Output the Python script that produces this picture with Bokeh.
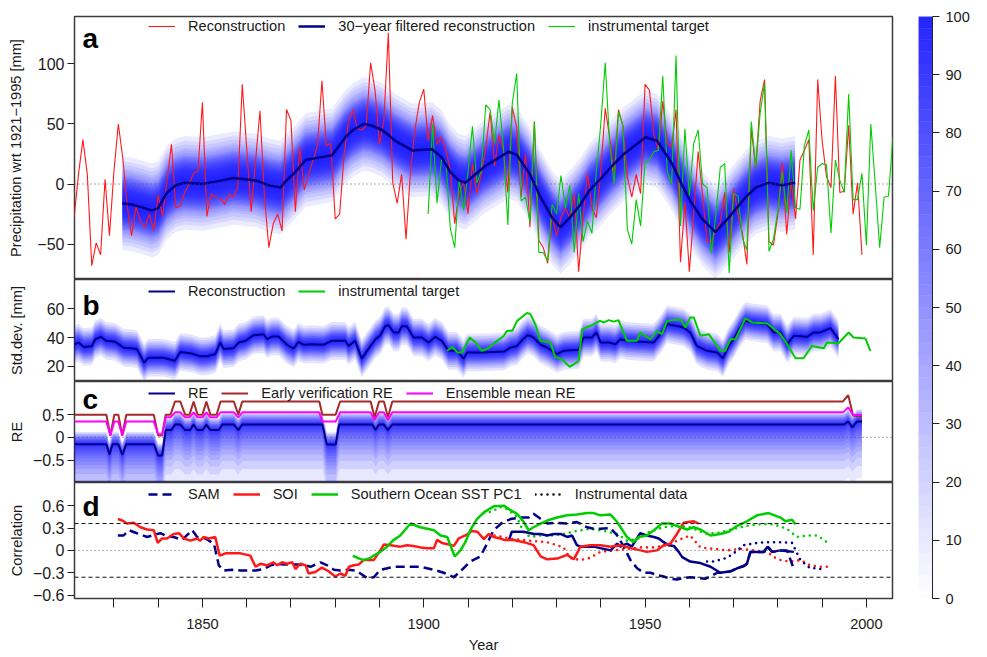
import math
import numpy as np
from bokeh.plotting import figure
from bokeh.layouts import row, column
from bokeh.models import Range1d, FixedTicker, Span, Label, Legend, LegendItem
from bokeh.embed import file_html
from bokeh.resources import INLINE

FONT = "Liberation Sans"

# ---------------- data ----------------
recon_years = list(range(1821, 2000))
recon_vals = [
    -28, 8, 37, 8, -68, -49, -59, 4, -43, 10,
    50, 22, -18, -43, -19, -31, -36, -25, -39, -9,
    -27, 3, 33, -20, -18, -7, 0, 9, 11, 68,
    -27, -8, -11, -12, -17, -9, -11, -2, 83, 30,
    -23, 19, 61, -10, -53, -33, -25, -39, 62, 53,
    -23, 31, -5, 8, 20, 32, 86, 32, 34, -29,
    -25, 24, 52, 62, 46, 45, 48, 101, 78, 33,
    53, 126, 1, -16, 8, -46, 10, 45, 68, 79,
    36, 57, 33, 39, 28, 12, -33, -8, 2, -25,
    17, -8, 8, 30, 60, 15, 41, 28, -7, 64,
    47, -11, 25, -36, 52, -47, -53, -66, -25, -43,
    -28, -20, -28, -8, -73, -28, 9, -20, -28, 11,
    63, 39, 8, 62, 48, 6, -11, 8, -8, 83,
    78, 41, 28, 69, 34, 31, 62, -65, -15, -73,
    -25, 27, -10, -48, -48, -38, -32, -7, -57, -4,
    -25, -41, -67, 46, 13, 69, 87, -48, -51, -25,
    18, -42, 3, -29, 20, 28, 37, -59, 87, 36,
    6, -3, 90, -7, -6, 49, -25, 1, -59]

instr_years = list(range(1901, 2007))
instr_vals = [
    -25, 50, -16, 20, 19, -37, -53, 4, -22, 10,
    48, 1, 11, 66, 62, 34, 70, 31, -34, 67,
    92, -14, -11, -32, 52, -57, -57, -64, -17, -25,
    7, -20, -1, -57, -8, -48, -31, -41, 11, 50,
    101, 34, 0, 60, 49, -38, -50, -13, -35, 18,
    20, 27, 28, 90, 11, 0, 107, -35, 46, -10,
    34, 45, 0, -3, -58, -25, 14, 17, -74, -8,
    -10, -45, -55, 52, 14, 59, 84, -56, -46, -22,
    10, -24, 28, -20, -21, 32, 45, -22, 14, 17,
    16, -41, 20, 3, -7, 75, -13, -13, 9, -51,
    50, 0, -53, -11, -10, 40]

filt_years = [1831.9, 1834, 1836, 1838.6, 1840, 1842, 1844, 1846, 1850, 1853, 1857, 1862,
              1865, 1867.6, 1869, 1871, 1873.3, 1876.3, 1879.3, 1882.3, 1884, 1886.4, 1888,
              1890.6, 1893.6, 1897.4, 1901.9, 1904.1, 1906, 1907.9, 1909.4, 1911, 1913.9,
              1917, 1919.2, 1921.1, 1924, 1926.4, 1929, 1930.9, 1933, 1935.4, 1937.5, 1939.9,
              1942.5, 1945.2, 1948, 1950.1, 1952.7, 1954.5, 1956.1, 1958, 1960.2, 1962.9,
              1965.9, 1968.9, 1972.7, 1975, 1977.9, 1980.9, 1983.9]
filt_vals = [-16, -17, -19, -22, -20, -7, -1, 1, 0, 2, 5, 3,
             -1, -3, 3, 10, 20, 22, 24, 39, 45, 50, 49,
             45, 36, 28, 29, 22, 10, 3, 1, 6, 15,
             22, 27, 24, 8, -11, -28, -36, -28, -17, -5, 4,
             15, 25, 33, 39, 36, 26, 17, 2, -14, -29,
             -40, -28, -11, -3, 1, -1, 1]

sd_years = [1821.1, 1822, 1823.2, 1825, 1825.8, 1827, 1828.3, 1830.3, 1832.2, 1834.4, 1835.2,
            1836.8, 1837.8, 1841.2, 1843.8, 1845, 1847.6, 1849.5, 1851, 1852.9, 1854, 1854.8,
            1857, 1858.2, 1859.7, 1861.6, 1863.8, 1864.6, 1865.7, 1867.2, 1869.1, 1870.6,
            1871.7, 1872.9, 1874.7, 1877.4, 1879.2, 1882.3, 1883, 1884.5, 1886, 1887.2, 1889.1,
            1890.2, 1891.3, 1892.1, 1893.2, 1894.3, 1895.1, 1896.2, 1897.7, 1899.6, 1901.1,
            1902.6, 1904.1, 1905.6, 1907.5, 1909, 1909.8, 1912.8, 1918.1, 1919.6, 1921.1,
            1922.2, 1923.5, 1924.8, 1926.4, 1927.9, 1929, 1930.1, 1931.6, 1935, 1936.1, 1938,
            1939, 1940, 1941.8, 1943.3, 1944.4, 1945.9, 1948.2, 1951.9, 1953.5, 1955, 1957.2,
            1958.7, 1960.2, 1961.7, 1964, 1966.3, 1967.6, 1968.9, 1970, 1971.5, 1972.7, 1974.5,
            1977.6, 1979, 1980.6, 1982.1, 1983.6, 1986.6, 1988.1, 1989.6, 1991.9, 1993.7]
sd_vals = [35.4, 36.5, 33.5, 34, 38.8, 40.5, 37.7, 37, 33, 32.4, 32,
           22.7, 26, 26, 24, 30, 29, 27, 27, 28.5, 36.5, 32,
           32.6, 36.5, 37.7, 41.6, 42.3, 38.8, 40.7, 40.7, 35, 32.4,
           37, 35, 35.4, 35, 37.7, 37.7, 34.2, 37.7, 25.4, 30.8, 38.8,
           41.6, 48, 48.5, 43.5, 43.5, 48, 47.6, 40, 40, 36.5,
           40.5, 37.7, 30.8, 30.8, 25.4, 29.6, 29.6, 30.3, 33, 34.2,
           38.2, 41.8, 40, 35, 33, 30.8, 28.5, 30.8, 31.5, 40, 40,
           43.5, 36.5, 36.5, 35.4, 38.8, 37.7, 37.2, 36.5, 42.3, 49.2, 48,
           46.9, 43.5, 34.2, 30.8, 29.6, 25.7, 34.2, 38.8, 46.9, 51.5, 50.4,
           49.2, 43.5, 43.5, 35.4, 41.2, 40.5, 43.5, 43.5, 46.5, 38.8]

sd_instr_years = [1905.3, 1906.4, 1907.7, 1908.6, 1910.4, 1911.6, 1913.1, 1914.6, 1916.1, 1917.6,
                  1918.1, 1918.8, 1920, 1921.1, 1923.3, 1924.1, 1925.2, 1926.4, 1928.6, 1929.7,
                  1931.2, 1933, 1935, 1935.8, 1937.7, 1939.8, 1940.7, 1941.8, 1942.9, 1944,
                  1945.9, 1948.2, 1948.9, 1951.2, 1952.7, 1953.8, 1955, 1958, 1959.1, 1960.2,
                  1961, 1962.5, 1964.4, 1967, 1968.1, 1969.3, 1970.4, 1972.7, 1974.2, 1977.6,
                  1980.6, 1982.1, 1984, 1985.8, 1987.7, 1990.4, 1991.1, 1993.7, 1996, 1997.1,
                  1999.8, 2000.9]
sd_instr_vals = [30.8, 33.5, 29.6, 29.6, 40, 37, 30.8, 32.6, 36.5, 40,
                 41.2, 44.6, 44.6, 51.5, 56.9, 56.2, 49.2, 37.7, 36.5, 26.6,
                 25, 19.7, 23.8, 45.8, 48.1, 51.5, 50.4, 52, 51, 52,
                 37.7, 37.7, 43.5, 38.8, 44.6, 42.3, 51.5, 52.7, 46.9, 53.9,
                 53.9, 41.2, 42.3, 30.8, 30.8, 38.8, 38.8, 53.2, 50.4, 49.7,
                 42.3, 35.4, 25.7, 25.7, 34.2, 32.6, 36.5, 36, 43.5, 40,
                 39.3, 30.8]

re_years = [1821.1, 1828.3, 1829.0, 1829.7, 1831.0, 1831.9, 1832.8, 1839, 1840, 1840.9, 1841.7,
            1843, 1843.8, 1845, 1846.1, 1847.2, 1848, 1848.8, 1850, 1850.9, 1851.8, 1853.7,
            1854.5, 1857.1, 1858.1, 1859, 1877.1, 1878.1, 1880.1, 1880.9, 1888.4, 1889.1,
            1889.9, 1891.0, 1891.9, 1892.9, 1994.9, 1995.9, 1996.8, 1997.9, 1999]
re_vals = [-0.15, -0.15, -0.38, -0.15, -0.15, -0.38, -0.15, -0.15, -0.4, -0.4, 0.16,
           0.16, 0.28, 0.28, 0.16, 0.16, 0.28, 0.16, 0.16, 0.28, 0.16, 0.16,
           0.28, 0.28, 0.16, 0.28, 0.28, -0.16, -0.16, 0.28, 0.28, 0.16,
           0.28, 0.28, 0.16, 0.28, 0.28, 0.35, 0.22, 0.35, 0.35]

ver_years = [1821.1, 1828.3, 1829.2, 1830.1, 1831.0, 1831.9, 1832.8, 1839, 1840, 1840.9, 1841.7,
             1842.8, 1843.8, 1845, 1846.1, 1847.1, 1848, 1848.9, 1850, 1850.9, 1851.8, 1853.2,
             1854.1, 1857.1, 1858.1, 1859, 1876.4, 1877.1, 1880.1, 1881.1, 1888, 1888.9,
             1889.9, 1891, 1891.9, 1892.9, 1994.7, 1995.9, 1997, 1999]
ver_re_vals = [0.5, 0.5, 0.04, 0.5, 0.5, 0.04, 0.5, 0.5, 0.04, 0.04, 0.5,
               0.5, 0.79, 0.79, 0.5, 0.5, 0.79, 0.5, 0.5, 0.79, 0.5, 0.5,
               0.79, 0.79, 0.5, 0.79, 0.79, 0.5, 0.5, 0.79, 0.79, 0.44,
               0.79, 0.79, 0.44, 0.79, 0.79, 0.93, 0.48, 0.46]
ens_re_vals = [0.35, 0.35, 0.04, 0.35, 0.35, 0.04, 0.35, 0.35, 0.07, 0.07, 0.44,
               0.44, 0.55, 0.55, 0.44, 0.44, 0.55, 0.44, 0.44, 0.55, 0.44, 0.44,
               0.55, 0.55, 0.44, 0.55, 0.55, 0.35, 0.35, 0.55, 0.55, 0.38,
               0.55, 0.55, 0.38, 0.55, 0.55, 0.66, 0.49, 0.49]

soi_years = [1830.9, 1831.9, 1833, 1834.5, 1836, 1837.5, 1839, 1839.9, 1840.9, 1842, 1843.5,
             1844.7, 1845.8, 1847.3, 1848.8, 1849.5, 1850.3, 1851.4, 1852.9, 1853.9, 1855.2,
             1857.1, 1858.6, 1860.8, 1862, 1863.1, 1864.6, 1866, 1866.9, 1868, 1869.1, 1870.3,
             1871, 1872.1, 1873.3, 1874, 1875.5, 1877, 1878.5, 1880, 1881.2, 1882.3, 1883.1,
             1884.2, 1885.3, 1886.4, 1888.7, 1890.2, 1891, 1892.5, 1894.7, 1896.2, 1897.7,
             1899.3, 1900.8, 1902.3, 1903, 1904.1, 1905.7, 1906.8, 1907.9, 1909.4, 1910.9,
             1912.1, 1913.6, 1914.7, 1915.8, 1917.3, 1918.1, 1920.3, 1922.6, 1924.8, 1926.4,
             1927.9, 1930.1, 1932.4, 1933.9, 1935.4, 1937.6, 1939.9, 1942.2, 1944.4, 1946.7,
             1949, 1950.4, 1952.7, 1954.2, 1955.7, 1957.2, 1958.7, 1961, 1962.1]
soi_vals = [0.42, 0.40, 0.36, 0.37, 0.31, 0.28, 0.27, 0.10, 0.16, 0.16, 0.22,
            0.23, 0.16, 0.13, 0.16, 0.13, 0.18, 0.16, 0.18, -0.07, -0.04,
            -0.04, -0.04, -0.07, -0.22, -0.18, -0.2, -0.16, -0.2, -0.16, -0.18, -0.16,
            -0.25, -0.18, -0.2, -0.31, -0.29, -0.23, -0.28, -0.35, -0.31, -0.34, -0.22,
            -0.2, -0.19, -0.13, -0.13, 0.0, 0.08, 0.07, 0.05, 0.07, 0.06,
            0.04, 0.03, 0.03, 0.14, 0.1, 0.08, 0.06, 0.16, 0.2, 0.26,
            0.25, 0.15, 0.22, 0.18, 0.16, 0.14, 0.14, 0.11, 0.07, -0.08,
            -0.12, -0.11, -0.06, -0.12, 0.05, 0.07, 0.07, 0.05, 0.07, 0.03,
            0.0, -0.02, 0.0, 0.07, 0.09, 0.22, 0.37, 0.39, 0.36]

sam_years = [1830.9, 1832.2, 1833.4, 1835.2, 1837.5, 1839.8, 1840.5, 1842, 1843.5, 1845.4,
             1847.7, 1848.8, 1850.7, 1852.6, 1853.7, 1854.8, 1856.7, 1858.6, 1860.1, 1862,
             1863.9, 1865.4, 1866.9, 1868.4, 1869.9, 1871.4, 1873.3, 1874.4, 1876.7, 1878.2,
             1879.7, 1881.2, 1883.1, 1884.6, 1885.7, 1887.2, 1888.7, 1890.2, 1893.2, 1896.2,
             1899.2, 1902.3, 1904.5, 1906.8, 1908.3, 1910.5, 1912.8, 1914.3, 1915.8, 1917.7,
             1919.6, 1921.8, 1923.7, 1924.8, 1926, 1927.9, 1930.1, 1932.4, 1934.6, 1936.9,
             1938.4, 1939.9, 1942.2, 1943.7, 1945.2, 1946.7, 1948.2, 1949.7, 1951.2, 1952.7,
             1954.2, 1955.7, 1957.2, 1958.7, 1960.2, 1961.7, 1963.6, 1964.8, 1966.3, 1967.8,
             1969.3, 1970.8, 1972.3, 1973, 1973.8, 1975.3, 1976.8, 1977.7, 1978.7, 1980.6,
             1982.1, 1983.6]
sam_vals = [0.2, 0.2, 0.27, 0.23, 0.18, 0.22, 0.23, 0.19, 0.18, 0.14,
            0.27, 0.18, 0.16, 0.09, -0.2, -0.27, -0.26, -0.27, -0.27, -0.27,
            -0.25, -0.2, -0.18, -0.19, -0.19, -0.19, -0.2, -0.22, -0.16, -0.2,
            -0.26, -0.27, -0.26, -0.27, -0.31, -0.37, -0.36, -0.26, -0.22, -0.22,
            -0.22, -0.26, -0.3, -0.36, -0.28, -0.15, -0.08, 0.09, 0.27, 0.37,
            0.42, 0.44, 0.44, 0.49, 0.44, 0.36, 0.37, 0.36, 0.38, 0.31,
            0.29, 0.29, 0.3, 0.2, 0.05, -0.13, -0.24, -0.3, -0.3, -0.33,
            -0.35, -0.38, -0.39, -0.37, -0.36, -0.37, -0.38, -0.35, -0.3, -0.3,
            -0.28, -0.24, -0.21, -0.18, -0.02, -0.02, -0.02, 0.05, -0.02, 0.0,
            0.0, -0.25]

sam2_years = [1919.2, 1919.9, 1922.6, 1924.9, 1926.4, 1927.9, 1929.4, 1930.9, 1932.4, 1933.5,
              1934.6, 1935.4, 1938.4, 1939.9, 1942.2, 1943.7, 1944.4, 1945.9, 1947, 1948.9,
              1950.4, 1952, 1953.1, 1954.2, 1955.3, 1956.5, 1957.6, 1958.4, 1960.2, 1962.5,
              1964.8, 1967, 1969.3, 1970.8, 1972.3, 1973, 1973.8, 1975.3, 1976.8, 1977.7,
              1978.7, 1980.6, 1983.6]
sam2_vals = [0.13, 0.25, 0.25, 0.22, 0.22, 0.2, 0.22, 0.22, 0.18, 0.2,
             0.07, 0.05, 0.05, 0.03, 0.0, 0.09, 0.05, 0.09, 0.05, 0.23,
             0.2, 0.18, 0.16, 0.11, 0.07, 0.06, -0.02, -0.09, -0.15, -0.17,
             -0.22, -0.3, -0.28, -0.24, -0.21, -0.18, -0.02, -0.02, -0.02, 0.05,
             -0.02, 0.0, -0.02]

sst_years = [1884, 1885, 1886.4, 1888, 1888.7, 1890.2, 1891.7, 1893.2, 1894.7, 1897, 1899.2,
             1902.3, 1903.8, 1905.3, 1907, 1908.3, 1909.4, 1910.5, 1912, 1913.6, 1915.8,
             1918.1, 1919.6, 1921.1, 1922.6, 1923.7, 1924.8, 1926.4, 1927.9, 1930.1, 1932.4,
             1934.6, 1936.9, 1938.4, 1939.9, 1942.2, 1943.7, 1945.9, 1947.4, 1948.6, 1950.4,
             1952, 1953.8, 1955.7, 1958, 1959.5, 1961, 1962.5, 1964.8, 1967, 1968.9, 1970.8,
             1973, 1975.3, 1977.9, 1980.6, 1981.7, 1983.2, 1984]
sst_vals = [-0.07, -0.1, -0.13, -0.1, -0.07, -0.02, 0.05, 0.14, 0.2, 0.36, 0.31,
            0.27, 0.2, 0.18, -0.08, 0.0, 0.11, 0.27, 0.42, 0.51, 0.59,
            0.6, 0.54, 0.49, 0.38, 0.27, 0.31, 0.36, 0.4, 0.44, 0.47,
            0.48, 0.5, 0.5, 0.47, 0.48, 0.38, 0.18, 0.11, 0.18, 0.2,
            0.27, 0.36, 0.36, 0.31, 0.28, 0.31, 0.28, 0.2, 0.22, 0.25, 0.33,
            0.39, 0.47, 0.5, 0.44, 0.39, 0.41, 0.35]

sst_obs_years = [1913.6, 1915.4, 1917.3, 1919, 1921, 1922.6, 1924.1, 1926.4, 1929, 1931.6,
                 1934.6, 1937.6, 1940.7, 1943.7, 1945.9, 1948.2, 1951, 1954.2, 1957.2, 1960,
                 1964, 1967, 1970, 1973, 1976, 1979, 1982, 1984.3, 1986.6, 1988.9, 1991.1]
sst_obs_vals = [0.5, 0.52, 0.58, 0.55, 0.45, 0.24, 0.18, 0.2, 0.2, 0.22,
                0.26, 0.29, 0.26, 0.22, 0.13, 0.15, 0.25, 0.31, 0.33, 0.31,
                0.22, 0.24, 0.29, 0.33, 0.35, 0.35, 0.29, 0.18, 0.2, 0.2, 0.11]
soi_obs_years = [1916, 1920.3, 1924, 1927.9, 1931.6, 1933, 1935.4, 1937.6, 1939.9, 1942.9,
                 1945.9, 1948.9, 1952, 1955, 1958, 1960.2, 1962.5, 1965.5, 1968.5, 1971.5,
                 1974.5, 1977.6, 1979.1, 1980.6, 1982.8, 1985.1, 1987.3, 1989.6, 1991.1]
soi_obs_vals = [0.2, 0.15, 0.13, 0.11, 0.04, -0.1, -0.13, -0.1, -0.02, 0.0,
                0.02, 0.04, 0.04, 0.07, 0.15, 0.2, 0.04, 0.02, 0.0, 0.02,
                0.0, -0.02, -0.09, -0.13, -0.15, -0.13, -0.2, -0.22, -0.22]
sam_obs_years = [1964, 1965.5, 1968.5, 1970, 1972.3, 1975.3, 1977.6, 1980.6, 1983.2, 1985.1,
                 1987.3, 1988.9, 1990.4]
sam_obs_vals = [-0.15, -0.15, -0.1, -0.04, 0.07, 0.1, 0.11, 0.11, 0.1, -0.13,
                -0.24, -0.24, -0.26]

sig_levels = [-0.36, 0.36]
prob_levels = list(range(0, 101, 2))

year_ticks = list(range(1830, 2001, 10))
year_labels = {y: (str(y) if y % 50 == 0 else "") for y in year_ticks}
a_ticks, a_labels = [-50, 0, 50, 100], ["\u221250", "0", "50", "100"]
b_ticks, b_labels = [20, 40, 60], ["20", "40", "60"]
c_ticks, c_labels = [-0.5, 0, 0.5], ["\u22120.5", "0", "0.5"]
d_ticks, d_labels = [-0.6, -0.3, 0, 0.3, 0.6], ["\u22120.6", "\u22120.3", "0", "0.3", "0.6"]
cb_ticks = list(range(0, 101, 10))

# ---------------- styling ----------------
RED = "#FF1A1A"
GREEN = "#00CD00"
NAVY = "#00008B"
BROWN = "#A52A2A"
MAGENTA = "#FF00FF"
SHADE = "#0000FF"
TXT = "#1a1a1a"
FRAME_W = 818
LEFT = 74
TOP = 16
BOTTOM = 57
YTICK_FS = "16px"
FS = "14.6px"

xr = Range1d(1821.1, 2005.9)


def make_panel(frame_h, yr, ticks, labels, title, title_standoff, top=0, bottom=0, xaxis=False):
    p = figure(frame_width=FRAME_W, frame_height=frame_h, x_range=xr, y_range=Range1d(*yr),
               output_backend="svg", toolbar_location=None,
               x_axis_location="below" if xaxis else None,
               min_border_left=LEFT, min_border_right=2, min_border_top=top,
               min_border_bottom=bottom)
    p.grid.visible = False
    p.outline_line_color = "#3c3c3c"
    p.outline_line_width = 1.5
    p.background_fill_color = "white"
    p.border_fill_color = "white"
    ax = p.yaxis[0]
    ax.ticker = FixedTicker(ticks=ticks)
    ax.major_label_overrides = dict(zip(ticks, labels))
    ax.axis_line_color = None
    ax.major_tick_out = 7
    ax.major_tick_in = 0
    ax.minor_tick_out = 0
    ax.minor_tick_in = 0
    ax.major_tick_line_color = "#222222"
    ax.major_label_text_font = FONT
    ax.major_label_text_font_size = YTICK_FS
    ax.major_label_text_color = TXT
    ax.major_label_standoff = 3
    ax.axis_label = title
    ax.axis_label_text_font = FONT
    ax.axis_label_text_font_size = FS
    ax.axis_label_text_font_style = "normal"
    ax.axis_label_text_color = TXT
    ax.axis_label_standoff = title_standoff
    return p


def add_letter(p, letter, frame_h, drop):
    p.add_layout(Label(x=8, y=frame_h - drop, x_units="screen", y_units="screen", text=letter,
                       text_font=FONT, text_font_size="28px", text_font_style="bold",
                       text_color="black", text_baseline="alphabetic"))


def add_legend(p, items, y):
    leg = Legend(items=[LegendItem(label=l, renderers=[r]) for l, r in items],
                 orientation="horizontal", location=(74, y),
                 glyph_width=27, glyph_height=16, label_height=16, label_standoff=13,
                 spacing=13, padding=0, margin=0, border_line_alpha=0,
                 background_fill_alpha=0, label_text_font=FONT,
                 label_text_font_size=FS, label_text_color=TXT)
    p.add_layout(leg)


def shade(p, xs, center, lo_widths, hi_widths, alpha):
    c = np.asarray(center, dtype=float)
    for lo, hi in zip(lo_widths, hi_widths):
        p.varea(x=xs, y1=c - lo, y2=c + hi, fill_color=SHADE, fill_alpha=alpha)


# ---------------- panel a ----------------
HA = 263
pa = make_panel(HA, (-79.5, 139.5), a_ticks, a_labels,
                "Precipitation wrt 1921\u22121995 [mm]", 10, top=TOP)
wa = [2, 4, 6, 8, 10, 11, 12, 13, 14, 15, 16, 17, 18, 19, 20, 21, 22, 23, 25, 27, 29, 32,
      35, 39]
shade(pa, filt_years, filt_vals, wa, wa, 0.077)
pa.add_layout(Span(location=0, dimension="width", line_color="#555555", line_width=1,
                   line_dash="1 3"))
r_red = pa.line(recon_years, recon_vals, line_color=RED, line_width=1.1)
r_green = pa.line(instr_years, instr_vals, line_color=GREEN, line_width=1.1)
r_filt = pa.line(filt_years, filt_vals, line_color=NAVY, line_width=2.5)
add_letter(pa, "a", HA, 22)
add_legend(pa, [("Reconstruction", r_red), ("30\u2212year filtered reconstruction", r_filt),
                ("instrumental target", r_green)], HA - 18)

# ---------------- panel b ----------------
HB = 102
pb = make_panel(HB, (9.6, 80.1), b_ticks, b_labels, "Std.dev. [mm]", 19)
wb = [0.6, 1.2, 1.8, 2.4, 3, 3.6, 4.2, 4.8, 5.4, 6, 6.8, 7.6, 8.6, 9.8, 11.2, 13]
shade(pb, sd_years, sd_vals, wb, wb, 0.11)
r_sd = pb.line(sd_years, sd_vals, line_color=NAVY, line_width=2)
r_sdi = pb.line(sd_instr_years, sd_instr_vals, line_color=GREEN, line_width=2)
add_letter(pb, "b", HB, 26)
add_legend(pb, [("Reconstruction", r_sd), ("instrumental target", r_sdi)], HB - 20)

# ---------------- panel c ----------------
HC = 101
pc = make_panel(HC, (-0.995, 1.23), c_ticks, c_labels, "RE", 5)
lo_c = [0.02, 0.04, 0.06, 0.09, 0.12, 0.16, 0.2, 0.25, 0.31, 0.38, 0.46, 0.55, 0.66, 0.8,
        0.98, 1.25]
hi_c = [0.015, 0.03, 0.045, 0.06, 0.075, 0.09, 0.105, 0.12, 0.135, 0.15, 0.17, 0.19, 0.21,
        0.23, 0.25, 0.27]
shade(pc, re_years, re_vals, lo_c, hi_c, 0.095)
pc.add_layout(Span(location=0, dimension="width", line_color="#555555", line_width=1,
                   line_dash="1 3"))
r_ver = pc.line(ver_years, ver_re_vals, line_color=BROWN, line_width=2)
r_ens = pc.line(ver_years, ens_re_vals, line_color=MAGENTA, line_width=2)
r_re = pc.line(re_years, re_vals, line_color=NAVY, line_width=2)
add_letter(pc, "c", HC, 18)
add_legend(pc, [("RE", r_re), ("Early verification RE", r_ver), ("Ensemble mean RE", r_ens)],
           HC - 20)

# ---------------- panel d ----------------
HD = 116
pd = make_panel(HD, (-0.645, 0.91), d_ticks, d_labels, "Correlation", 5, bottom=BOTTOM,
                xaxis=True)
pd.add_layout(Span(location=0, dimension="width", line_color="#555555", line_width=1,
                   line_dash="1 3"))
for lev in sig_levels:
    pd.add_layout(Span(location=lev, dimension="width", line_color="#111111", line_width=1,
                       line_dash="4 3"))
dot = dict(line_width=2.6, line_dash="0 6", line_cap="round")
pd.line(sst_obs_years, sst_obs_vals, line_color=GREEN, **dot)
pd.line(soi_obs_years, soi_obs_vals, line_color=RED, **dot)
pd.line(sam_obs_years, sam_obs_vals, line_color=NAVY, **dot)
r_sam = pd.line(sam_years, sam_vals, line_color=NAVY, line_width=2.5, line_dash="9 5")
pd.line(sam2_years, sam2_vals, line_color=NAVY, line_width=2.5)
r_soi = pd.line(soi_years, soi_vals, line_color=RED, line_width=2.5)
r_sst = pd.line(sst_years, sst_vals, line_color=GREEN, line_width=2.5)
# legend-only key for the dotted instrumental series (no visible data)
r_obs = pd.line(x=[np.nan], y=[np.nan], line_color="#111111", **dot)
add_letter(pd, "d", HD, 24)
add_legend(pd, [("SAM", r_sam), ("SOI", r_soi), ("Southern Ocean SST PC1", r_sst),
                ("Instrumental data", r_obs)], HD - 20)

xa = pd.xaxis[0]
xa.ticker = FixedTicker(ticks=year_ticks)
xa.major_label_overrides = year_labels
xa.axis_line_color = None
xa.major_tick_out = 9
xa.major_tick_in = 0
xa.minor_tick_out = 0
xa.minor_tick_in = 0
xa.major_tick_line_color = "#222222"
xa.major_label_text_font = FONT
xa.major_label_text_font_size = FS
xa.major_label_text_color = TXT
xa.major_label_standoff = 11
xa.axis_label = "Year"
xa.axis_label_text_font = FONT
xa.axis_label_text_font_size = FS
xa.axis_label_text_font_style = "normal"
xa.axis_label_text_color = TXT
xa.axis_label_standoff = 5

# ---------------- colour bar ----------------
CBH = HA + HB + HC + HD
cb = figure(frame_width=14, frame_height=CBH, x_range=Range1d(0, 1), y_range=Range1d(0, 100),
            output_backend="svg", toolbar_location=None, x_axis_location=None,
            y_axis_location="right", min_border_left=24, min_border_right=53,
            min_border_top=TOP, min_border_bottom=BOTTOM)
cb.grid.visible = False
cb.outline_line_color = None


def blend(t):
    v = int(round(255 - t * (255 - 36)))
    return "#%02x%02x%02x" % (v, v, 255)


cols = [blend((lo + hi) / 200.0) for lo, hi in zip(prob_levels[:-1], prob_levels[1:])]
cb.quad(left=0, right=1, bottom=prob_levels[:-1], top=prob_levels[1:], fill_color=cols,
        line_color=cols, line_width=0.5)
ca = cb.yaxis[0]
ca.ticker = FixedTicker(ticks=cb_ticks)
ca.axis_line_color = "#222222"
ca.axis_line_width = 1
ca.major_tick_out = 7
ca.major_tick_in = 0
ca.minor_tick_out = 0
ca.minor_tick_in = 0
ca.major_tick_line_color = "#222222"
ca.major_label_text_font = FONT
ca.major_label_text_font_size = FS
ca.major_label_text_color = TXT
ca.major_label_standoff = 6
cb.add_layout(Label(x=59, y=CBH / 2, x_units="screen", y_units="screen", text="Probability",
                    angle=math.pi / 2, text_align="center", text_baseline="middle",
                    text_font=FONT, text_font_size=FS, text_color=TXT))

layout = row(column(pa, pb, pc, pd), cb)
open("out.html", "w").write(file_html(layout, INLINE))
